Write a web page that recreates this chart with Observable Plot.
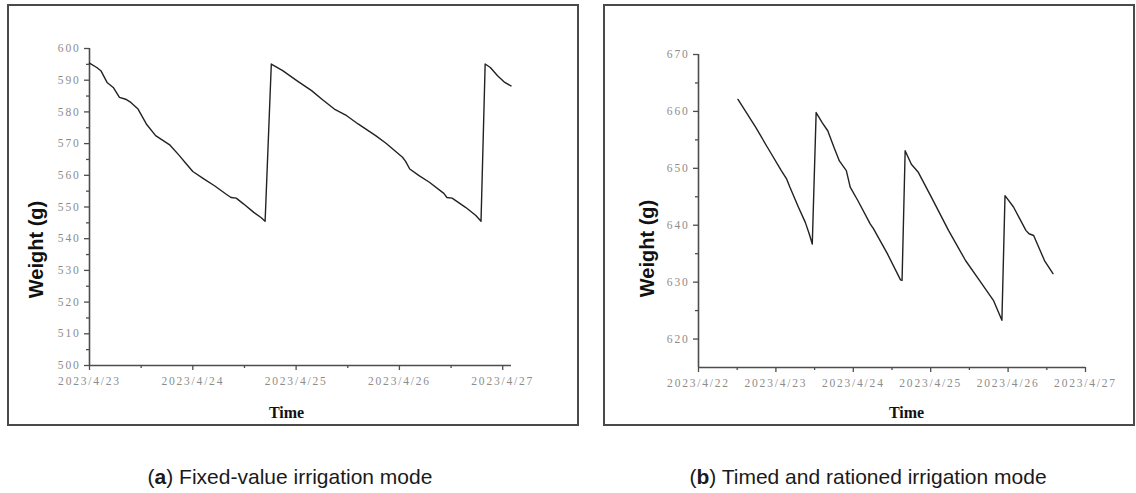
<!DOCTYPE html>
<html>
<head>
<meta charset="utf-8">
<script src="https://cdn.jsdelivr.net/npm/d3@7"></script>
<script src="https://cdn.jsdelivr.net/npm/@observablehq/plot@0.6"></script>
<style>
  html, body { margin: 0; padding: 0; background: #fff; }
  #page { position: relative; width: 1136px; height: 493px; overflow: hidden; background: #fff; }
  .panel { position: absolute; }
  .frame { position: absolute; border: 2px solid #4a4a4a; box-sizing: border-box; pointer-events: none; }
  .caption { position: absolute; font-family: "Liberation Sans", Arial, sans-serif; font-size: 21px; color: #1a1a1a; white-space: nowrap; transform: translate(-50%, -50%); }
</style>
</head>
<body>
<div id="page">
  <div class="panel" id="pa" style="left:7px;top:5px"></div>
  <div class="panel" id="pb" style="left:603px;top:5px"></div>
  <div class="frame" style="left:7px;top:4px;width:572px;height:422px"></div>
  <div class="frame" style="left:603px;top:4px;width:532px;height:422px"></div>
  <div class="caption" id="capA" style="left:290px;top:477px"></div>
  <div class="caption" id="capB" style="left:868px;top:477px"></div>
</div>
<script>
// ---------- DATA ----------
// (a) Fixed-value irrigation mode: days since 2023/4/23 00:00 and weight (g)
const leftStart = "2023-04-23";
const leftDays = [0, 0.07, 0.11, 0.17, 0.23, 0.29, 0.35, 0.40, 0.47, 0.55, 0.64, 0.71, 0.78, 0.87, 0.94, 1.00,
  1.11, 1.21, 1.32, 1.37, 1.42, 1.49, 1.59, 1.66, 1.70, 1.76, 1.87, 2.01, 2.15, 2.25, 2.37, 2.49, 2.60, 2.77,
  2.87, 3.03, 3.06, 3.10, 3.19, 3.29, 3.43, 3.46, 3.51, 3.64, 3.74, 3.79, 3.83, 3.88, 3.95, 4.02, 4.08];
const leftWeight = [595.4, 594, 593, 589.3, 587.7, 584.6, 584, 583, 580.9, 576.2, 572.5, 571, 569.5, 566.2, 563.5, 561.2,
  558.8, 556.7, 554.1, 553, 552.8, 551, 548.3, 546.7, 545.5, 595.1, 593, 589.8, 586.7, 584, 580.9, 578.8, 576.2, 572.5,
  570.1, 565.7, 564.4, 562, 559.9, 557.8, 554.3, 553, 552.8, 549.9, 547.3, 545.5, 595.1, 594, 591.4, 589.3, 588.2];
const leftEndDays = 4.085;
const leftXTickLabels = ["2023/4/23", "2023/4/24", "2023/4/25", "2023/4/26", "2023/4/27"];
const leftYTicks = [500, 510, 520, 530, 540, 550, 560, 570, 580, 590, 600];

// (b) Timed and rationed irrigation mode: days since 2023/4/22 00:00 and weight (g)
const rightStart = "2023-04-22";
const rightDays = [0.51, 0.74, 0.89, 1.07, 1.14, 1.18, 1.29, 1.38, 1.43, 1.47, 1.52, 1.60, 1.67, 1.75, 1.82, 1.91,
  1.96, 2.06, 2.22, 2.26, 2.44, 2.61, 2.63, 2.67, 2.75, 2.84, 3.01, 3.23, 3.45, 3.63, 3.81, 3.92, 3.96, 4.07,
  4.23, 4.27, 4.33, 4.47, 4.58];
const rightWeight = [662.1, 657.2, 653.7, 649.6, 648.1, 646.7, 643.2, 640.5, 638.5, 636.7, 659.8, 658, 656.6, 653.7, 651.3, 649.6,
  646.7, 644.3, 640.2, 639.4, 635, 630.4, 630.3, 653.1, 650.7, 649.3, 644.9, 639.1, 633.8, 630.3, 626.8, 623.3, 645.2, 643.2,
  639.1, 638.5, 638.2, 633.8, 631.5];
const rightEndDays = 5;
const rightXTickLabels = ["2023/4/22", "2023/4/23", "2023/4/24", "2023/4/25", "2023/4/26", "2023/4/27"];
const rightYTicks = [620, 630, 640, 650, 660, 670];
const rightYMin = 615;

const xTitle = "Time";
const yTitle = "Weight (g)";
const captionA = ["a", ") Fixed-value irrigation mode"];
const captionB = ["b", ") Timed and rationed irrigation mode"];

// ---------- HELPERS ----------
const DAY = 86400000;
const parseLabel = d3.utcParse("%Y/%m/%d");
const fmt = d => `${d.getUTCFullYear()}/${d.getUTCMonth() + 1}/${d.getUTCDate()}`;
const toDate = (start, days) => new Date(Date.parse(start + "T00:00:00Z") + days * DAY);
const mids = arr => arr.slice(1).map((v, i) => (arr[i] instanceof Date)
  ? new Date((+arr[i] + +v) / 2) : (arr[i] + v) / 2);

const axisColor = "#4d4d4d";
const tickTextColor = "#8c8c8c";

function panel(cfg) {
  const data = cfg.days.map((d, i) => ({date: toDate(cfg.start, d), w: cfg.weight[i]}));
  const xTicks = cfg.xLabels.map(parseLabel);
  const xMinor = mids(xTicks);
  const yMinor = mids(cfg.yTicks);
  const xDomain = [toDate(cfg.start, 0), toDate(cfg.start, cfg.endDays)];
  const yDomain = [cfg.yMin, cfg.yTicks[cfg.yTicks.length - 1]];
  const svg = Plot.plot({
    width: cfg.width, height: cfg.height,
    marginLeft: cfg.ml, marginRight: cfg.mr, marginTop: cfg.mt, marginBottom: cfg.mb,
    style: {background: "transparent", fontFamily: "'Liberation Serif', serif", overflow: "visible"},
    x: {type: "utc", domain: xDomain, label: null},
    y: {domain: yDomain, label: null},
    marks: [
      Plot.axisX(xMinor, {tickSize: 3, tickFormat: () => "", stroke: axisColor, strokeWidth: 1.3}),
      Plot.axisX(xTicks, {tickSize: 5, tickPadding: 6, tickFormat: fmt, stroke: axisColor, strokeWidth: 1.3,
        fill: tickTextColor, fontSize: 11.5, label: null}),
      Plot.axisY(yMinor, {tickSize: 3, tickFormat: () => "", stroke: axisColor, strokeWidth: 1.3}),
      Plot.axisY(cfg.yTicks, {tickSize: 5, tickPadding: 4, stroke: axisColor, strokeWidth: 1.3,
        fill: tickTextColor, fontSize: 11.5, label: null}),
      Plot.ruleY([yDomain[0]], {stroke: axisColor, strokeWidth: 1.6}),
      Plot.ruleX([xDomain[0]], {stroke: axisColor, strokeWidth: 1.6}),
      Plot.line(data, {x: "date", y: "w", stroke: "#222", strokeWidth: 1.4}),
      Plot.text([xTitle], {frameAnchor: "bottom", lineAnchor: "middle", textAnchor: "middle",
        dx: cfg.tdx, dy: cfg.tdy, fontSize: 16, fontWeight: "bold",
        fill: "#111", fontFamily: "'Liberation Serif', serif"}),
      Plot.text([yTitle], {frameAnchor: "left", rotate: -90, textAnchor: "middle", lineAnchor: "middle",
        dx: cfg.ydx, dy: cfg.ydy, fontSize: 20, fontWeight: "bold",
        fill: "#111", fontFamily: "'Liberation Sans', Arial, sans-serif"})
    ]
  });
  svg.querySelectorAll('g[aria-label$="tick label"] text').forEach(t => t.setAttribute("letter-spacing", "1.8"));
  return svg;
}

document.getElementById("pa").appendChild(panel({
  start: leftStart, days: leftDays, weight: leftWeight, endDays: leftEndDays,
  xLabels: leftXTickLabels, yTicks: leftYTicks, yMin: leftYTicks[0],
  width: 571, height: 420, ml: 82, mr: 67, mt: 43, mb: 60,
  tdx: -14, tdy: 47, ydx: -53, ydy: 42.5
}));
document.getElementById("pb").appendChild(panel({
  start: rightStart, days: rightDays, weight: rightWeight, endDays: rightEndDays,
  xLabels: rightXTickLabels, yTicks: rightYTicks, yMin: rightYMin,
  width: 531, height: 420, ml: 95, mr: 49, mt: 49, mb: 58,
  tdx: 14.5, tdy: 45, ydx: -51, ydy: 37.5
}));

function setCaption(id, parts) {
  const el = document.getElementById(id);
  el.append("(");
  const b = document.createElement("b");
  b.textContent = parts[0];
  el.append(b);
  el.append(parts[1]);
}
setCaption("capA", captionA);
setCaption("capB", captionB);
</script>
</body>
</html>
